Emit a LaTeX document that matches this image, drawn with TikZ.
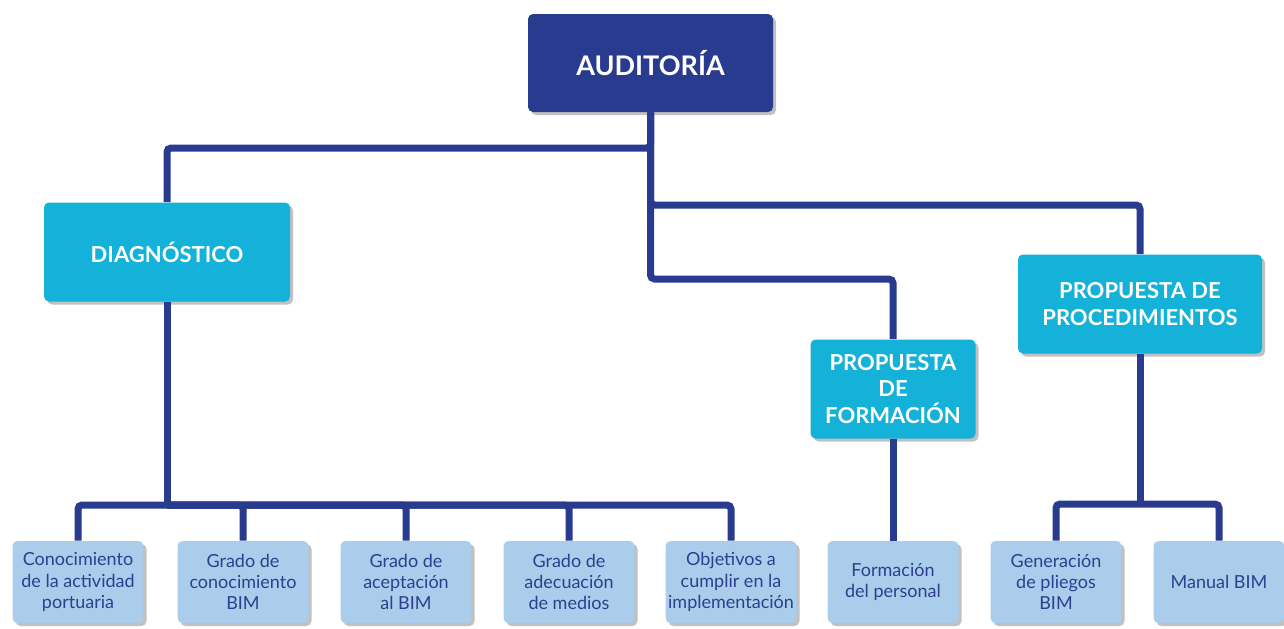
\documentclass[tikz,border=0pt]{standalone}
\usepackage{fontspec}
\setmainfont{Lato}
\usetikzlibrary{shadows}
\definecolor{navy}{HTML}{283B8E}
\definecolor{cyanbox}{HTML}{14B1D8}
\definecolor{leafbox}{HTML}{A9CDEA}
\definecolor{leaftext}{HTML}{2D3F8E}
\begin{document}
\begin{tikzpicture}[x=0.5pt,y=-0.5pt,
  boxshadow/.style={drop shadow={shadow xshift=1.5pt,shadow yshift=-1.5pt,opacity=0.35,fill=black!70}},
  rootbox/.style={fill=navy,text=white,rounded corners=2.5pt,boxshadow,inner sep=0pt,
    minimum width=122.5pt,minimum height=49pt,align=center,
    font=\bfseries\fontsize{13.5}{16}\selectfont},
  midbox/.style={fill=cyanbox,text=white,rounded corners=2.5pt,boxshadow,inner sep=0pt,
    minimum height=49.5pt,align=center,
    font=\bfseries\fontsize{11}{13.2}\selectfont},
  leaf/.style={fill=leafbox,text=leaftext,rounded corners=2.5pt,boxshadow,inner sep=0pt,
    minimum width=65.5pt,minimum height=41pt,align=center,
    font=\fontsize{9}{10.6}\selectfont},
  conn/.style={draw=navy,line width=3.5pt,rounded corners=2pt}
]
\useasboundingbox (0,0) rectangle (1284,628);

% main box
\node[rootbox] (aud) at (650.5,63) {AUDITORÍA};

% second level
\node[midbox,minimum width=123pt] (diag) at (167,252) {DIAGNÓSTICO};
\node[midbox,minimum width=82.5pt] (form) at (893,389) {PROPUESTA\\DE\\FORMACIÓN};
\node[midbox,minimum width=122pt] (proc) at (1140,304) {PROPUESTA DE\\PROCEDIMIENTOS};

% leaves
\node[leaf] (l1) at (78,582)   {Conocimiento\\de la actividad\\portuaria};
\node[leaf] (l2) at (243,582)  {Grado de\\conocimiento\\BIM};
\node[leaf] (l3) at (406,582)  {Grado de\\aceptación\\al BIM};
\node[leaf] (l4) at (569,582)  {Grado de\\adecuación\\de medios};
\node[leaf] (l5) at (731,582)  {Objetivos a\\cumplir en la\\implementación};
\node[leaf] (l6) at (893,582)  {Formación\\del personal};
\node[leaf] (l7) at (1056,582) {Generación\\de pliegos\\BIM};
\node[leaf] (l8) at (1219,582) {Manual BIM};

% junction points
\coordinate (j1) at (650.5,148);
\coordinate (j2) at (650.5,205);
\coordinate (j3) at (650.5,279);
\coordinate (jd) at (167,505);
\coordinate (jp) at (1140,504);

% connectors from the main box
\draw[conn] (aud.south) -- (j1) -| (diag.north);
\draw[conn] (aud.south) -- (j2) -| (proc.north);
\draw[conn] (aud.south) -- (j3) -| (form.north);

% diagnosis branch
\draw[conn] (diag.south) -- (jd);
\foreach \n in {l1,l2,l3,l4,l5}{\draw[conn] (jd) -| (\n.north);}

% training branch
\draw[conn] (form.south) -- (l6.north);

% procedures branch
\draw[conn] (proc.south) -- (jp);
\foreach \n in {l7,l8}{\draw[conn] (jp) -| (\n.north);}
\end{tikzpicture}
\end{document}
